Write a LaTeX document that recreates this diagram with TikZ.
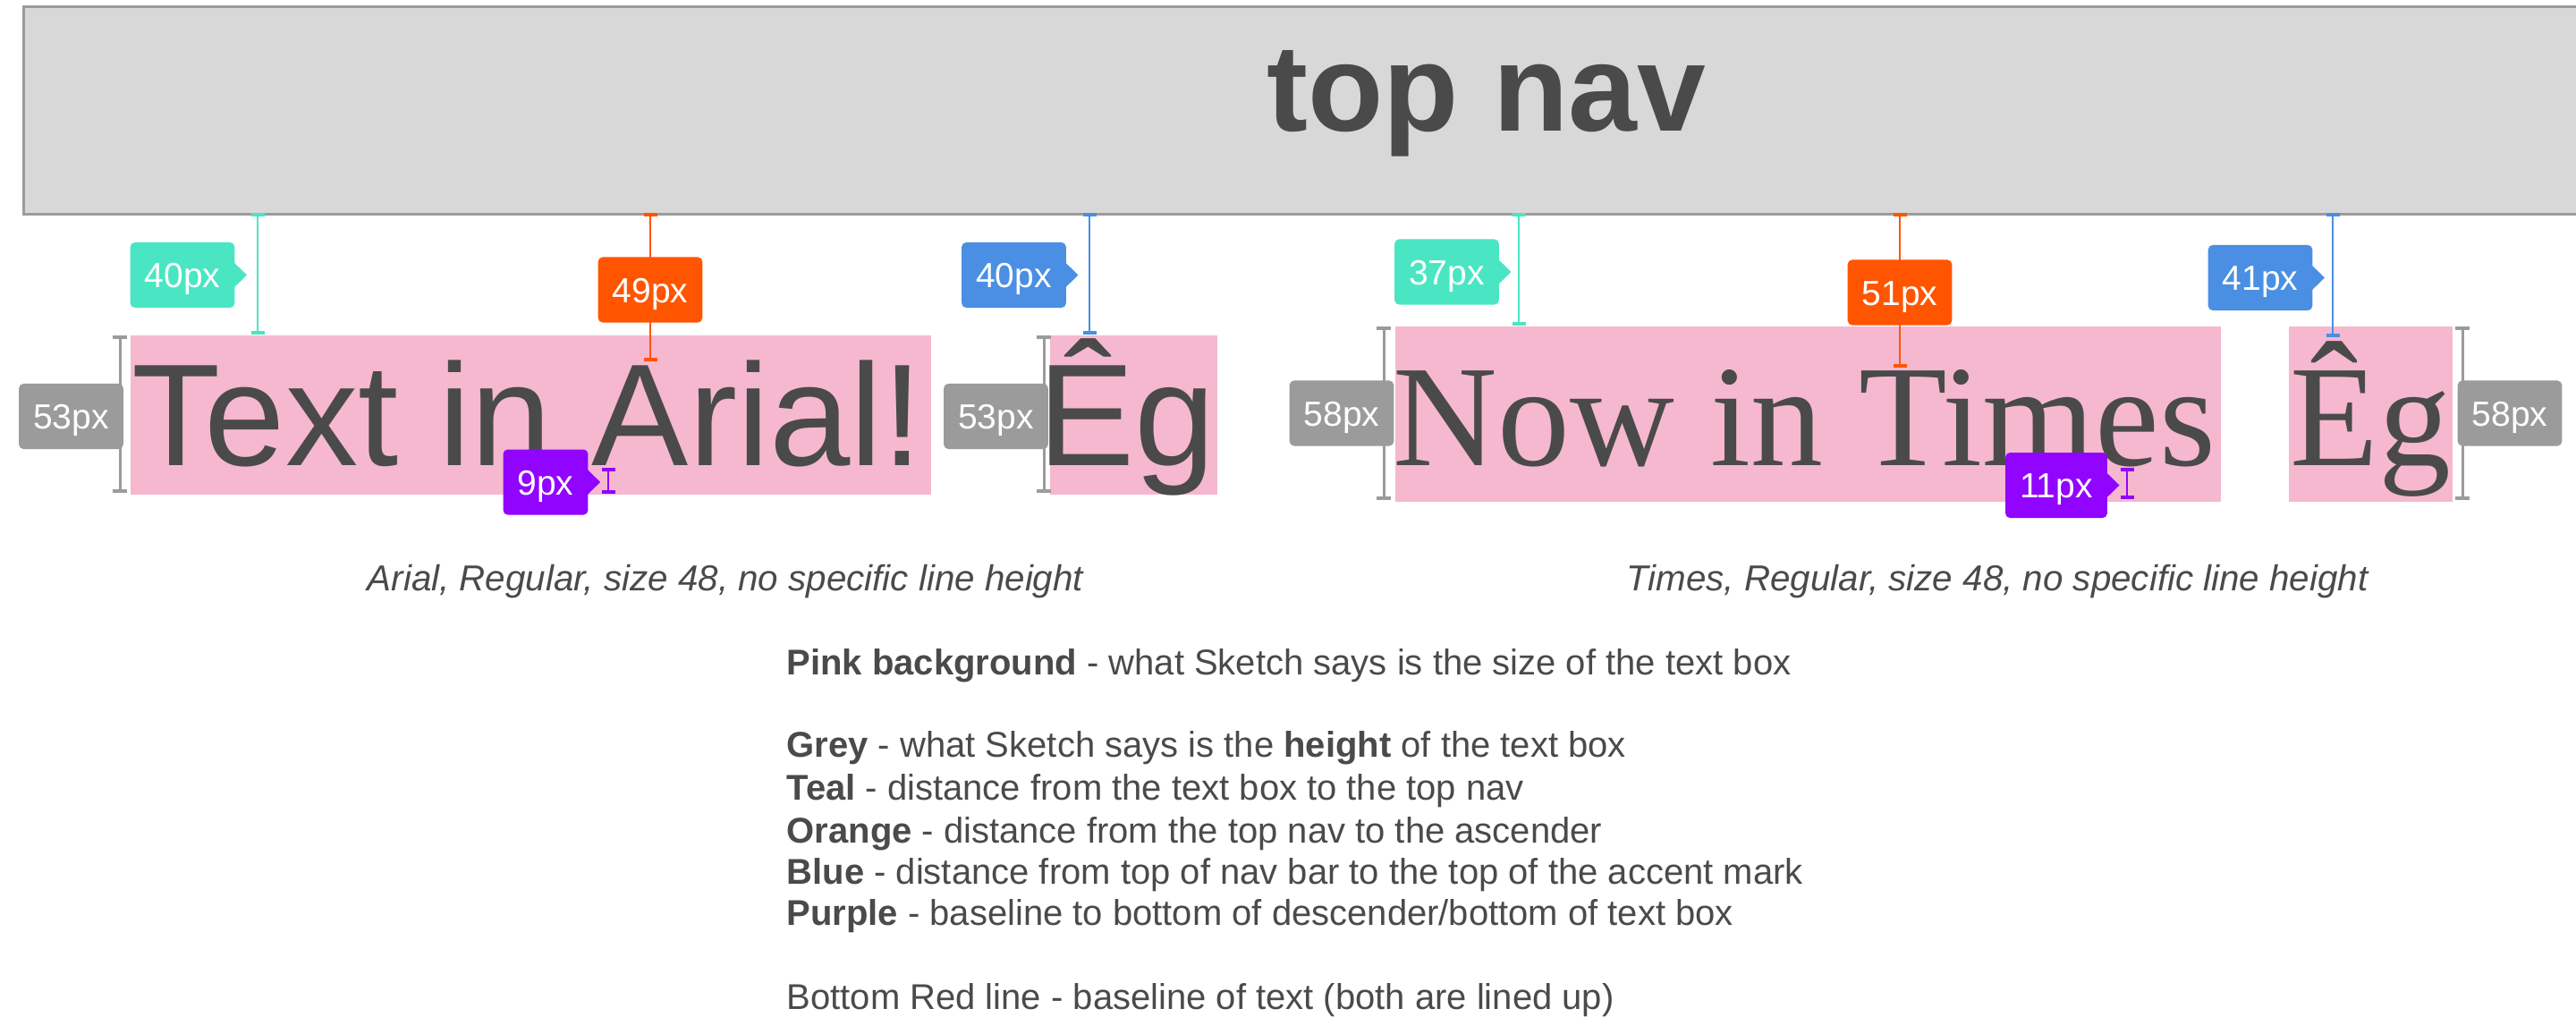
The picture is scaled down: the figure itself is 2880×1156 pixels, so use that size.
\documentclass[tikz,border=0pt]{standalone}
\usepackage{fontspec}
\setmainfont{Liberation Sans}
\newfontfamily\timesfont{Liberation Serif}
\usetikzlibrary{arrows.meta}
\definecolor{navfill}{HTML}{D8D8D8}
\definecolor{navline}{HTML}{9B9B9B}
\definecolor{pinkc}{HTML}{F5B8CF}
\definecolor{ink}{HTML}{4A4A4A}
\definecolor{tealc}{HTML}{4AE6C3}
\definecolor{orangec}{HTML}{FF5500}
\definecolor{bluec}{HTML}{4A8FE3}
\definecolor{purplec}{HTML}{9104FF}
\definecolor{greyc}{HTML}{9B9B9B}
\newcommand\tagtip[2]{\fill[#1] ([xshift=-0.4bp,yshift=4.2bp]#2.east) -- ([xshift=3.9bp]#2.east) -- ([xshift=-0.4bp,yshift=-4.2bp]#2.east) -- cycle;}
\tikzset{
  lab/.style={fill=#1, rounded corners=1.5bp, inner xsep=4.8bp, inner ysep=0pt,
    minimum height=21.9bp, text height=8.4bp, text depth=0pt, text=white,
    font=\fontsize{11.7bp}{14bp}\selectfont},
  meas/.style={draw=#1, line width=0.75bp,
    {Bar[width=4.5bp,line width=1.2bp]}-{Bar[width=4.5bp,line width=1.2bp]}},
  gbar/.style={draw=greyc, line width=0.9bp,
    {Bar[width=5bp,line width=1.2bp]}-{Bar[width=5bp,line width=1.2bp]}},
  pinkbox/.style={fill=pinkc, inner sep=0pt, anchor=north west},
  arialbig/.style={font=\fontsize{48.7bp}{58bp}\selectfont, text=ink, inner sep=0pt, anchor=base west},
  timesbig/.style={font=\timesfont\fontsize{48.5bp}{58bp}\selectfont, text=ink, inner sep=0pt, anchor=base west},
  caption/.style={font=\fontsize{12.1bp}{14bp}\selectfont\itshape, text=ink, inner sep=0pt, anchor=base},
  legend/.style={font=\fontsize{12bp}{14bp}\selectfont, text=ink, inner sep=0pt, anchor=base west},
}
\begin{document}
\begin{tikzpicture}[x=0.3bp,y=-0.3bp]
\useasboundingbox[fill=white] (0,0) rectangle (2880,1156);
% top nav
\node[draw=navline, fill=navfill, line width=1bp, inner sep=0pt,
  minimum width=865.5bp, minimum height=69.6bp, anchor=north west] (nav) at (25,6) {};
\node[font=\fontsize{41.4bp}{50bp}\selectfont\bfseries, text=ink, inner sep=0pt, anchor=base west] (navtext) at (1416,147) {top nav};
% pink text boxes
\node[pinkbox, minimum width=268.5bp, minimum height=53.4bp] (p1) at (145,374) {};
\node[pinkbox, minimum width=56.1bp, minimum height=53.4bp] (p2) at (1173,374) {};
\node[pinkbox, minimum width=276.9bp, minimum height=58.8bp] (p3) at (1559,364) {};
\node[pinkbox, minimum width=54.9bp, minimum height=58.8bp] (p4) at (2558,364) {};
% sample texts
\node[arialbig] (arialtxt) at (147,520) {Text in Arial!};
\node[arialbig] (arialeg) at (1160,520) {Êg};
\node[timesbig] (timestxt) at (1557,520) {Now in Times};
\node[timesbig] (timeseg) at (2560,520) {Êg};
% measurement end points
\coordinate (ta1) at (288,238);  \coordinate (tb1) at (288,374);
\coordinate (oa1) at (727,238);  \coordinate (ob1) at (727,404);
\coordinate (ba1) at (1218,238); \coordinate (bb1) at (1218,374);
\coordinate (ua1) at (680,523);  \coordinate (ub1) at (680,552);
\coordinate (ga1) at (134,375);  \coordinate (gb1) at (134,551);
\coordinate (ga2) at (1167,375); \coordinate (gb2) at (1167,551);
\coordinate (ta2) at (1698,238); \coordinate (tb2) at (1698,364);
\coordinate (oa2) at (2124,238); \coordinate (ob2) at (2124,411);
\coordinate (ba2) at (2608,238); \coordinate (bb2) at (2608,377);
\coordinate (ua2) at (2378,523); \coordinate (ub2) at (2378,558);
\coordinate (ga3) at (1547,365); \coordinate (gb3) at (1547,559);
\coordinate (ga4) at (2753,365); \coordinate (gb4) at (2753,559);
% measurement lines
\draw[meas=tealc] (ta1) -- (tb1);
\draw[meas=orangec] (oa1) -- (ob1);
\draw[meas=bluec] (ba1) -- (bb1);
\draw[meas=purplec] (ua1) -- (ub1);
\draw[gbar] (ga1) -- (gb1);
\draw[gbar] (ga2) -- (gb2);
\draw[meas=tealc] (ta2) -- (tb2);
\draw[meas=orangec] (oa2) -- (ob2);
\draw[meas=bluec] (ba2) -- (bb2);
\draw[meas=purplec] (ua2) -- (ub2);
\draw[gbar] (ga3) -- (gb3);
\draw[gbar] (ga4) -- (gb4);
% labels
\node[lab=tealc] (lt1) at (204,307.5) {40px}; \tagtip{tealc}{lt1}
\node[lab=orangec] (lo1) at (727,324) {49px};
\node[lab=bluec] (lb1) at (1133.5,307.5) {40px}; \tagtip{bluec}{lb1}
\node[lab=purplec] (lu1) at (610,539) {9px}; \tagtip{purplec}{lu1}
\node[lab=greyc] (lg1) at (79.5,465.5) {53px};
\node[lab=greyc] (lg2) at (1113.5,465.5) {53px};
\node[lab=tealc] (lt2) at (1617.5,304) {37px}; \tagtip{tealc}{lt2}
\node[lab=orangec] (lo2) at (2124,327) {51px};
\node[lab=bluec] (lb2) at (2527,310.5) {41px}; \tagtip{bluec}{lb2}
\node[lab=purplec] (lu2) at (2299,542.5) {11px}; \tagtip{purplec}{lu2}
\node[lab=greyc] (lg3) at (1500,462) {58px};
\node[lab=greyc] (lg4) at (2806,462) {58px};
% captions
\node[caption] (cap1) at (811,660) {Arial, Regular, size 48, no specific line height};
\node[caption] (cap2) at (2233,660) {Times, Regular, size 48, no specific line height};
% legend
\node[legend] (lg-pink) at (879,754) {\textbf{Pink background} - what Sketch says is the size of the text box};
\node[legend] (lg-grey) at (879,846) {\textbf{Grey} - what Sketch says is the \textbf{height} of the text box};
\node[legend] (lg-teal) at (879,894) {\textbf{Teal} - distance from the text box to the top nav};
\node[legend] (lg-orange) at (879,942) {\textbf{Orange} - distance from the top nav to the ascender};
\node[legend] (lg-blue) at (879,988) {\textbf{Blue} - distance from top of nav bar to the top of the accent mark};
\node[legend] (lg-purple) at (879,1034) {\textbf{Purple} - baseline to bottom of descender/bottom of text box};
\node[legend] (lg-red) at (879,1128) {Bottom Red line - baseline of text (both are lined up)};
\end{tikzpicture}
\end{document}
